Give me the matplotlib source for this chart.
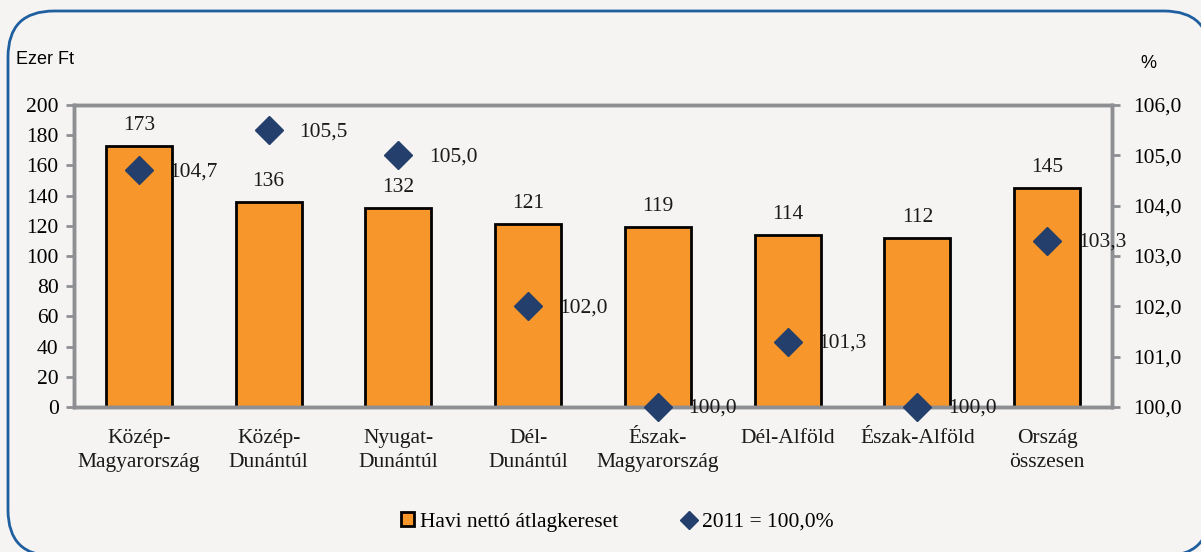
import matplotlib
matplotlib.use("Agg")
import matplotlib.pyplot as plt
from matplotlib.patches import FancyBboxPatch
from matplotlib.lines import Line2D
from matplotlib.patches import Patch
from matplotlib.transforms import IdentityTransform

categories = ["Közép-\nMagyarország", "Közép-\nDunántúl", "Nyugat-\nDunántúl", "Dél-\nDunántúl",
              "Észak-\nMagyarország", "Dél-Alföld", "Észak-Alföld", "Ország\nösszesen"]
earnings = [173, 136, 132, 121, 119, 114, 112, 145]
index_2011 = [104.7, 105.5, 105.0, 102.0, 100.0, 101.3, 100.0, 103.3]
left_ticks = [0, 20, 40, 60, 80, 100, 120, 140, 160, 180, 200]
right_ticks = [100, 101, 102, 103, 104, 105, 106]

BG = "#f5f4f2"
BAR = "#f7962b"
DIA = "#243f6b"
GRAY = "#8e8f93"
SERIF = "Liberation Serif"
SANS = "Liberation Sans"
FS = 15.5

fig = plt.figure(figsize=(12.01, 5.52), dpi=100)
fig.patch.set_facecolor(BG)

box = FancyBboxPatch((8, -4), 1210 - 8, 541 + 4,
                     boxstyle="round,pad=0,rounding_size=46",
                     transform=IdentityTransform(), facecolor=BG, edgecolor="#1f5fa0",
                     linewidth=2, zorder=-1)
fig.patches.append(box)

ax = fig.add_axes([74 / 1201, 1 - 407 / 552, (1112 - 74) / 1201, (407 - 105) / 552])
ax.set_facecolor("none")
x = list(range(len(categories)))
ax.bar(x, earnings, width=0.51, color=BAR, edgecolor="black", linewidth=2, zorder=2)
ax.set_xlim(-0.5, len(categories) - 0.5)
ax.set_ylim(0, 200)
ax.set_yticks(left_ticks)
ax.set_xticks(x)
ax.set_xticklabels(categories, fontsize=FS, family=SERIF, color="#1a1a1a", linespacing=1.35)
for lbl in ax.get_yticklabels():
    lbl.set_fontfamily(SERIF)
    lbl.set_fontsize(FS)
ax.tick_params(axis="x", length=0, pad=16)
ax.tick_params(axis="y", length=6, width=2, color=GRAY, pad=5)
for s in ax.spines.values():
    s.set_color(GRAY)
    s.set_linewidth(2.5)
for xi, v in zip(x, earnings):
    ax.annotate(str(v), (xi, v), xytext=(0, 8), textcoords="offset points",
                ha="center", va="bottom", fontsize=FS, family=SERIF, color="#1a1a1a")

ax2 = ax.twinx()
ax2.set_ylim(100, 106)
ax2.set_yticks(right_ticks)
ax2.set_yticklabels([f"{t:.1f}".replace(".", ",") for t in right_ticks], fontsize=FS, family=SERIF)
ax2.tick_params(axis="y", length=6, width=2, color=GRAY, pad=9)
for s in ax2.spines.values():
    s.set_color(GRAY)
    s.set_linewidth(2.5)
ax2.plot(x, index_2011, linestyle="none", marker="D", markersize=14, color=DIA, zorder=5, clip_on=False)
for xi, v in zip(x, index_2011):
    ax2.annotate(f"{v:.1f}".replace(".", ","), (xi, v), xytext=(22, -1), textcoords="offset points",
                 ha="left", va="center", fontsize=FS, family=SERIF, color="#1a1a1a")

fig.text(16 / 1201, 1 - 60 / 552, "Ezer Ft", fontsize=13, family=SANS, va="center", ha="left")
fig.text(1140 / 1201, 1 - 63 / 552, "%", fontsize=13, family=SANS, va="center", ha="left")

handles = [Patch(facecolor=BAR, edgecolor="black", linewidth=2),
           Line2D([], [], linestyle="none", marker="D", markersize=9, color=DIA)]
fig.legend(handles, ["Havi nettó átlagkereset", "2011 = 100,0%"], loc="center",
           bbox_to_anchor=(0.514, 1 - 522 / 552), ncol=2, frameon=False,
           prop={"family": SERIF, "size": FS}, handlelength=0.6, handleheight=0.6,
           handletextpad=0.3, columnspacing=3.0)

fig.savefig("out.png", dpi=100, facecolor=BG)
